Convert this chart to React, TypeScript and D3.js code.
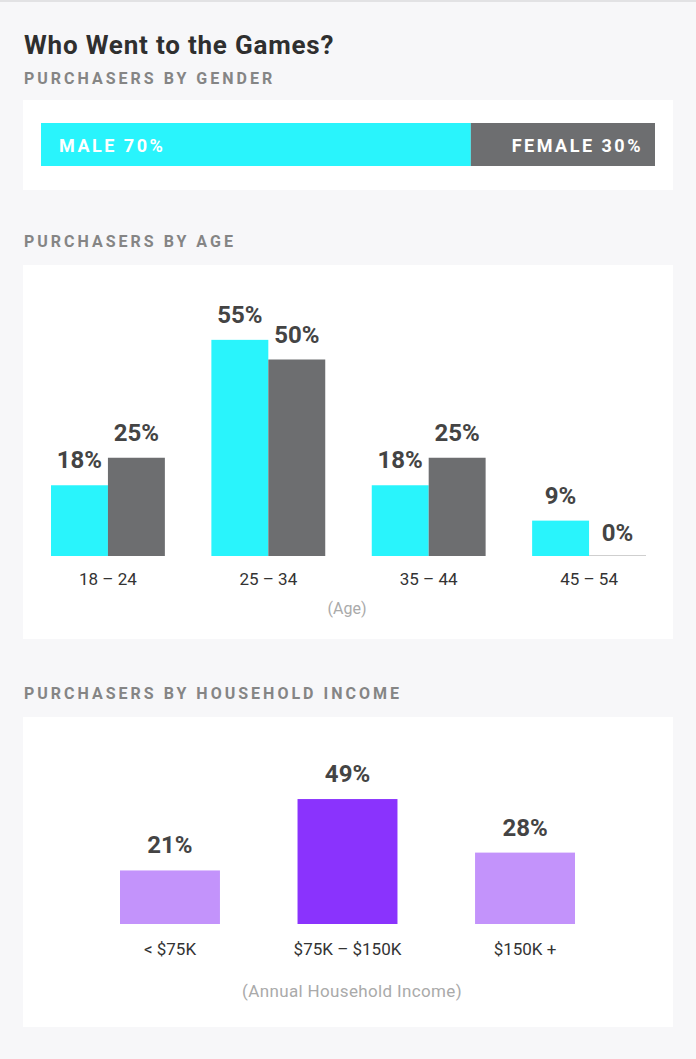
import React from "react";
import * as d3 from "d3";

const genderLabels = ["MALE", "FEMALE"];
const genderValues = [70, 30];

const ageCategories = ["18 – 24", "25 – 34", "35 – 44", "45 – 54"];
const ageSeries = ["male", "female"];
const ageMale = [18, 55, 18, 9];
const ageFemale = [25, 50, 25, 0];

const incomeCategories = ["< $75K", "$75K – $150K", "$150K +"];
const incomeValues = [21, 49, 28];

const CYAN = "#29f4fc";
const GRAY = "#6d6e70";
const LIGHT_PURPLE = "#c393fb";
const DARK_PURPLE = "#8a33fd";
const FONT = "Roboto, 'Noto Sans', sans-serif";

export default function App() {
  const W = 696;
  const H = 1059;

  // gender
  const gx = d3.scaleLinear().domain([0, 100]).range([41, 655]);
  let acc = 0;
  const genderSegs = genderValues.map((v, i) => {
    const s = { label: genderLabels[i], v, x0: gx(acc), x1: gx(acc + v) };
    acc += v;
    return s;
  });

  // age
  const ageBase = 556;
  const ax = d3.scaleBand().domain(ageCategories).range([51, 646]).paddingInner(0.29).paddingOuter(0);
  const ax1 = d3.scaleBand().domain(ageSeries).range([0, ax.bandwidth()]);
  const ay = d3.scaleLinear().domain([0, 100]).range([ageBase, ageBase - 393]);

  // income
  const incBase = 924;
  const ix = d3.scaleBand().domain(incomeCategories).range([120, 575]).paddingInner(0.437).paddingOuter(0);
  const iy = d3.scaleLinear().domain([0, 100]).range([incBase, incBase - 255]);

  const heading = (text: string, y: number) => (
    <text x={24} y={y} fontFamily={FONT} fontWeight={700} fontSize={16} letterSpacing={3} fill="#858585">
      {text}
    </text>
  );

  return (
    <svg width={W} height={H} style={{ position: "absolute", left: 0, top: 0 }}>
      <rect x={0} y={0} width={W} height={H} fill="#f7f7f9" />
      <rect x={0} y={0} width={W} height={2} fill="#e2e2e4" />
      <text x={24} y={54} fontFamily={FONT} fontWeight={700} fontSize={26} letterSpacing={0.8} fill="#2f2f2f">
        Who Went to the Games?
      </text>
      {heading("PURCHASERS BY GENDER", 84)}
      <rect x={23} y={100} width={650} height={90} fill="#fff" />
      {genderSegs.map((s, i) => (
        <g key={s.label}>
          <rect x={s.x0} y={123} width={s.x1 - s.x0} height={43} fill={i === 0 ? CYAN : GRAY} />
          <text
            x={i === 0 ? s.x0 + 18 : s.x1 - 12}
            y={152}
            textAnchor={i === 0 ? "start" : "end"}
            fontFamily={FONT}
            fontWeight={700}
            fontSize={18}
            letterSpacing={2.5}
            fill="#fff"
          >
            {`${s.label} ${s.v}%`}
          </text>
        </g>
      ))}

      {heading("PURCHASERS BY AGE", 247)}
      <rect x={23} y={265} width={650} height={374} fill="#fff" />
      {ageCategories.map((c, i) => {
        const vals = [ageMale[i], ageFemale[i]];
        return (
          <g key={c} transform={`translate(${ax(c)},0)`}>
            {vals.map((v, j) => {
              const x = ax1(ageSeries[j])!;
              const y = ay(v);
              return (
                <g key={j}>
                  {v > 0 ? (
                    <rect x={x} y={y} width={ax1.bandwidth()} height={ageBase - y} fill={j === 0 ? CYAN : GRAY} />
                  ) : (
                    <rect x={x} y={ageBase - 1} width={ax1.bandwidth()} height={1} fill="#cfcfcf" />
                  )}
                  <text
                    x={x + ax1.bandwidth() / 2}
                    y={y - (v > 0 ? 17 : 15)}
                    textAnchor="middle"
                    fontFamily={FONT}
                    fontWeight={700}
                    fontSize={24}
                    fill="#444"
                  >
                    {`${v}%`}
                  </text>
                </g>
              );
            })}
            <text x={ax.bandwidth() / 2} y={585} textAnchor="middle" fontFamily={FONT} fontSize={17} fill="#333">
              {c}
            </text>
          </g>
        );
      })}
      <text x={347} y={614} textAnchor="middle" fontFamily={FONT} fontSize={16} fill="#aaa">
        (Age)
      </text>

      {heading("PURCHASERS BY HOUSEHOLD INCOME", 699)}
      <rect x={23} y={717} width={650} height={310} fill="#fff" />
      {incomeCategories.map((c, i) => {
        const v = incomeValues[i];
        const x = ix(c)!;
        const y = iy(v);
        const cx = x + ix.bandwidth() / 2;
        return (
          <g key={c}>
            <rect x={x} y={y} width={ix.bandwidth()} height={incBase - y} fill={i === 1 ? DARK_PURPLE : LIGHT_PURPLE} />
            <text x={cx} y={y - 17} textAnchor="middle" fontFamily={FONT} fontWeight={700} fontSize={24} fill="#444">
              {`${v}%`}
            </text>
            <text x={cx} y={955} textAnchor="middle" fontFamily={FONT} fontSize={17} fill="#333">
              {c}
            </text>
          </g>
        );
      })}
      <text x={352} y={997} textAnchor="middle" fontFamily={FONT} fontSize={17} letterSpacing={0.35} fill="#aaa">
        (Annual Household Income)
      </text>
    </svg>
  );
}
